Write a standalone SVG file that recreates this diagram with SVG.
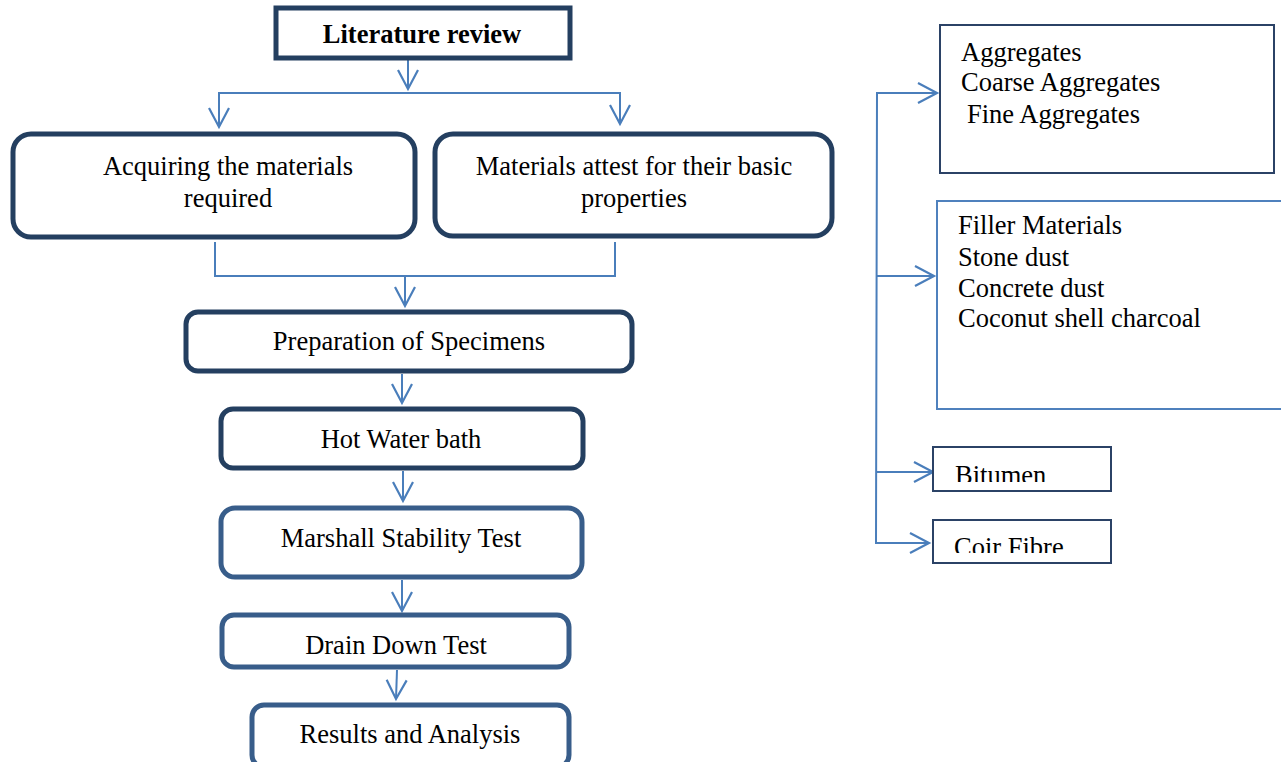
<svg xmlns="http://www.w3.org/2000/svg" width="1281" height="762" viewBox="0 0 1281 762">
<style>
text{font-family:"Liberation Serif","Times New Roman",serif;font-size:26.5px;fill:#000}
.c{text-anchor:middle}
.b{font-weight:bold}
.dk{fill:#fff;stroke:#243F60;stroke-width:5}
.md{fill:#fff;stroke:#385D8A;stroke-width:5}
.thin{fill:#fff;stroke:#2B4266;stroke-width:2}
.lt{fill:#fff;stroke:#4F81BD;stroke-width:2}
.con{fill:none;stroke:#4A7EBB;stroke-width:2}
</style>
<defs>
<marker id="ah" markerUnits="userSpaceOnUse" markerWidth="26" markerHeight="26" refX="21" refY="13" orient="auto">
<path d="M2,3 L21,13 L2,23" fill="none" stroke="#4A7EBB" stroke-width="2.2"/>
</marker>
<clipPath id="cb"><rect x="933" y="447" width="178" height="35"/></clipPath>
<clipPath id="cc"><rect x="933" y="520" width="178" height="33"/></clipPath>
</defs>
<g id="connectors">
<line class="con" x1="408" y1="60" x2="408" y2="89" marker-end="url(#ah)"/>
<polyline class="con" points="219,126 219,93 620,93 620,124" marker-end="url(#ah)"/>
<line class="con" x1="219" y1="93" x2="219" y2="127" marker-end="url(#ah)"/>
<polyline class="con" points="215,242 215,276 615,276 615,242"/>
<line class="con" x1="405" y1="276" x2="405" y2="306" marker-end="url(#ah)"/>
<line class="con" x1="402" y1="374" x2="402" y2="403" marker-end="url(#ah)"/>
<line class="con" x1="403" y1="471" x2="403" y2="501" marker-end="url(#ah)"/>
<line class="con" x1="402" y1="580" x2="402" y2="611" marker-end="url(#ah)"/>
<line class="con" x1="397" y1="670" x2="396" y2="699" marker-end="url(#ah)"/>
<polyline class="con" points="937,93 877,93 876,543 929,543" marker-end="url(#ah)"/>
<line class="con" x1="877" y1="93" x2="937" y2="93" marker-end="url(#ah)"/>
<line class="con" x1="877" y1="276" x2="934" y2="276" marker-end="url(#ah)"/>
<line class="con" x1="876" y1="472" x2="933" y2="472" marker-end="url(#ah)"/>
</g>
<g id="literature">
<rect class="dk" x="276" y="8" width="294" height="50"/>
<text class="c b" x="422" y="43">Literature review</text>
</g>
<g id="acquiring">
<rect class="dk" x="13" y="134" width="402" height="103" rx="18"/>
<text class="c" x="228" y="175">Acquiring the materials</text>
<text class="c" x="228" y="207">required</text>
</g>
<g id="attest">
<rect class="dk" x="435" y="134" width="397" height="102" rx="18"/>
<text class="c" x="634" y="175">Materials attest for their basic</text>
<text class="c" x="634" y="207">properties</text>
</g>
<g id="preparation">
<rect class="dk" x="186" y="312" width="446" height="59" rx="12"/>
<text class="c" x="409" y="350">Preparation of Specimens</text>
</g>
<g id="hotwater">
<rect class="dk" x="221" y="409" width="362" height="59" rx="12"/>
<text class="c" x="401" y="448">Hot Water bath</text>
</g>
<g id="marshall">
<rect class="md" x="221" y="508" width="361" height="69" rx="14"/>
<text class="c" x="401" y="547">Marshall Stability Test</text>
</g>
<g id="drain">
<rect class="md" x="222" y="615" width="347" height="52" rx="12"/>
<text class="c" x="396" y="654">Drain Down Test</text>
</g>
<g id="results">
<rect class="md" x="252" y="705" width="317" height="62" rx="12"/>
<text class="c" x="410" y="743">Results and Analysis</text>
</g>
<g id="aggregates">
<rect class="thin" x="940" y="25" width="334" height="148"/>
<text x="961" y="61">Aggregates</text>
<text x="961" y="91">Coarse Aggregates</text>
<text x="967" y="123">Fine Aggregates</text>
</g>
<g id="filler">
<rect class="lt" x="937" y="201" width="346" height="208"/>
<text x="958" y="234">Filler Materials</text>
<text x="958" y="266">Stone dust</text>
<text x="958" y="297">Concrete dust</text>
<text x="958" y="327">Coconut shell charcoal</text>
</g>
<g id="bitumen">
<rect class="thin" x="933" y="447" width="178" height="44"/>
<text x="955" y="484" clip-path="url(#cb)">Bitumen</text>
</g>
<g id="coir">
<rect class="thin" x="933" y="520" width="178" height="43"/>
<text x="954" y="556" clip-path="url(#cc)">Coir Fibre</text>
</g>
</svg>
